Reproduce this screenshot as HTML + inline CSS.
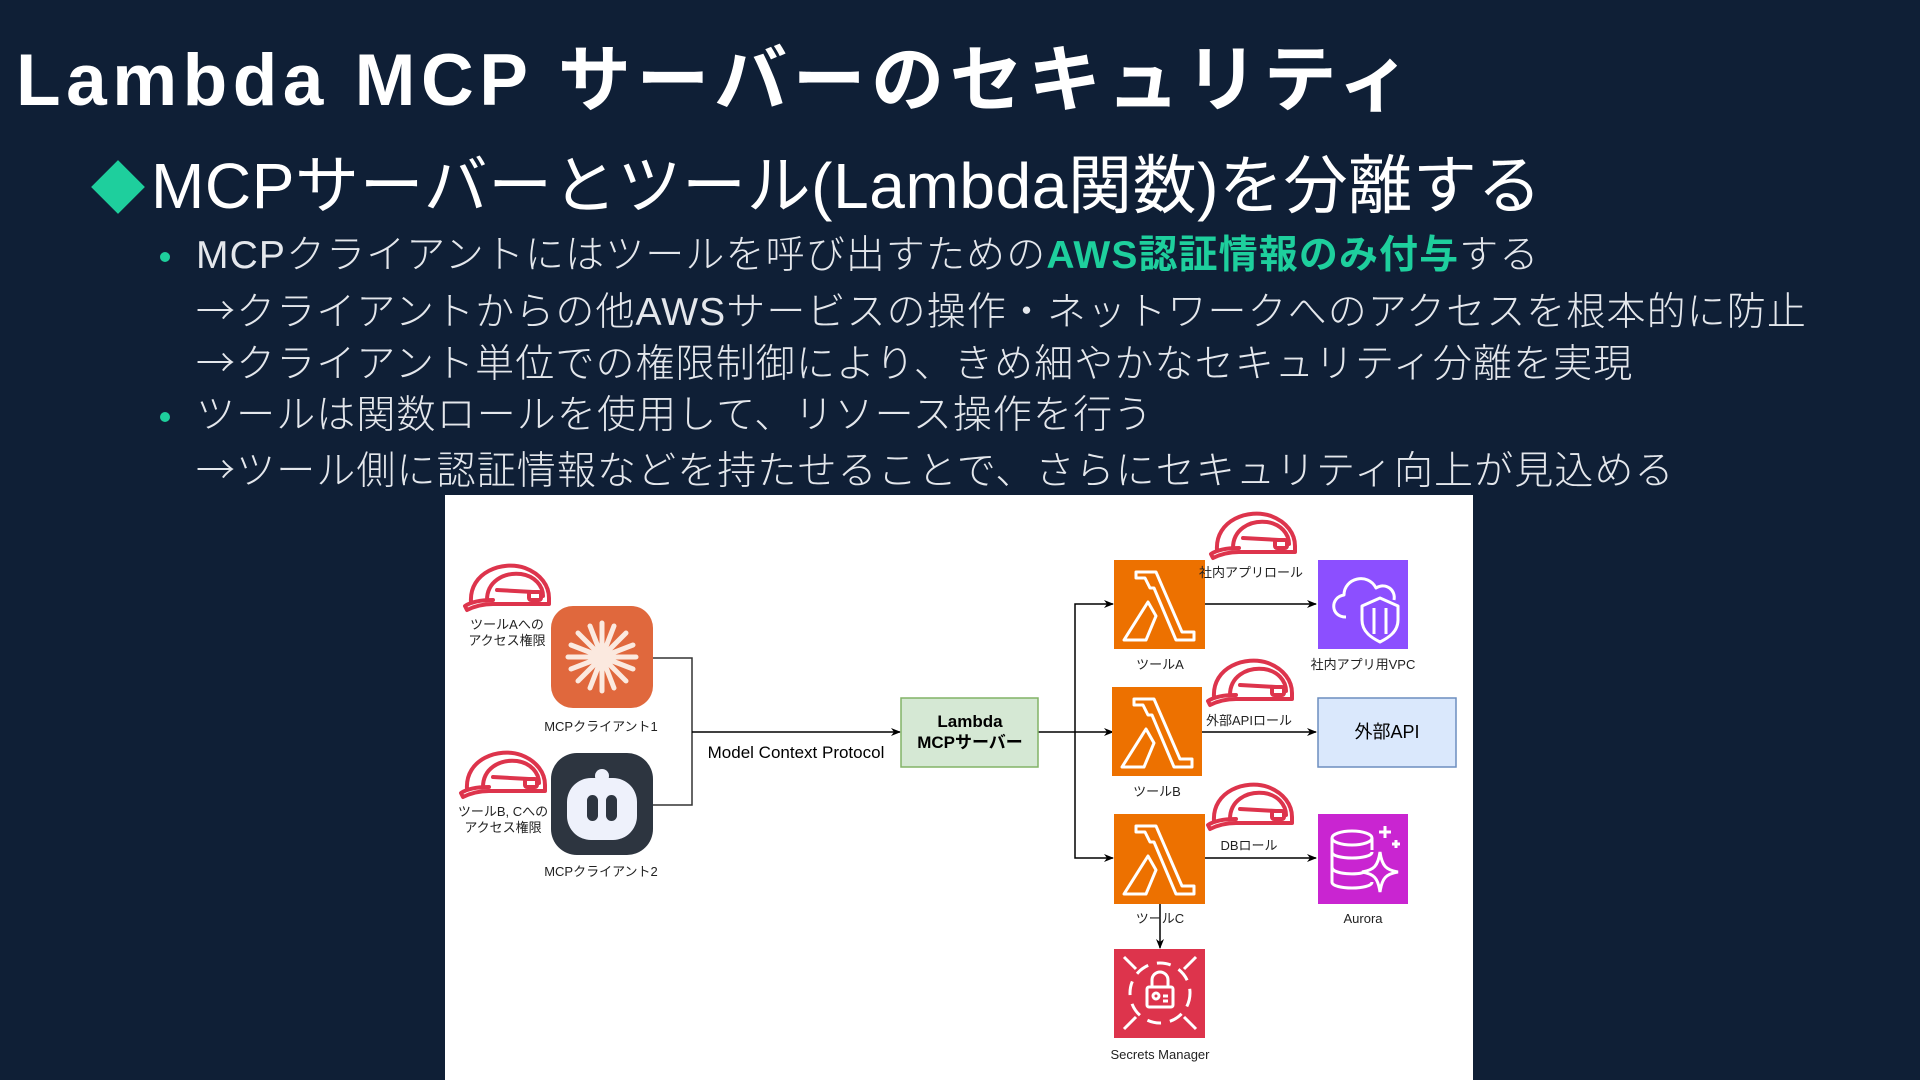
<!DOCTYPE html>
<html><head><meta charset="utf-8"><style>
html,body{margin:0;padding:0}
body{width:1920px;height:1080px;background:#0f1f36;position:relative;overflow:hidden;font-family:"Liberation Sans","Noto Sans CJK JP",sans-serif;color:#e6e9ee}
.t{position:absolute;white-space:nowrap;line-height:1}
.b{font-weight:300;font-size:39px;letter-spacing:1.1px;color:#e4e7ec}
.a{font-family:"Noto Sans CJK JP",sans-serif}
.dot{position:absolute;width:10px;height:10px;border-radius:50%;background:#1ecf9d}
</style></head><body>
<div class="t" style="left:16px;top:44px;font-size:73px;font-weight:bold;color:#fff;letter-spacing:5.5px">Lambda MCP サーバーのセキュリティ</div>
<div style="position:absolute;left:99px;top:168px;width:38px;height:38px;background:#1ecf9d;transform:rotate(45deg)"></div>
<div class="t" style="left:151px;top:154px;font-size:64px;color:#fff;letter-spacing:0.6px">MCPサーバーとツール(Lambda関数)を分離する</div>
<div class="dot" style="left:160px;top:252px"></div>
<div class="t b" style="left:196px;top:236px">MCPクライアントにはツールを呼び出すための<span style="color:#1ecf9d;font-weight:bold">AWS認証情報のみ付与</span>する</div>
<div class="t b" style="left:196px;top:290px"><span class="a">→</span>クライアントからの他AWSサービスの操作・ネットワークへのアクセスを根本的に防止</div>
<div class="t b" style="left:196px;top:342px"><span class="a">→</span>クライアント単位での権限制御により、きめ細やかなセキュリティ分離を実現</div>
<div class="dot" style="left:160px;top:412px"></div>
<div class="t b" style="left:196px;top:396px">ツールは関数ロールを使用して、リソース操作を行う</div>
<div class="t b" style="left:196px;top:449px"><span class="a">→</span>ツール側に認証情報などを持たせることで、さらにセキュリティ向上が見込める</div>

<svg style="position:absolute;left:0;top:0" width="1920" height="1080" viewBox="0 0 1920 1080" font-family="Liberation Sans, Noto Sans CJK JP, sans-serif">
<defs>
<marker id="ar" markerWidth="10" markerHeight="10" refX="9" refY="5" orient="auto" markerUnits="userSpaceOnUse"><path d="M0,1 L10,5 L0,9 L3,5z" fill="#000"/></marker>
<g id="helm" fill="none" stroke="#dd344c" stroke-width="4" stroke-linecap="round" stroke-linejoin="round">
<path d="M8,42 C6,12 40,0 62,8 C78,14 86,26 86,38 L86,44 L30,44 C20,44 12,46 4,50 L2,46 C8,42 18,40 30,40"/>
<path d="M24,40 C24,22 40,12 58,14 C72,16 80,26 80,36"/>
<path d="M34,30 L70,32"/>
<rect x="66" y="32" width="12" height="8" rx="2"/>
</g>
<g id="lam" fill="none" stroke="#fff" stroke-width="3" stroke-linejoin="round">
<path d="M24,14 L44,14 L70,74 L82,74 L82,82 L64,82 L42,30 L38,30 L33,20 L24,20z"/>
<path d="M36,44 L44,58 L34,82 L12,82z"/>
</g>
</defs>
<rect x="445" y="495" width="1028" height="590" fill="#fff"/>
<use href="#helm" transform="translate(463,560)"/>
<use href="#helm" transform="translate(459,747)"/>
<use href="#helm" transform="translate(1209,508)"/>
<use href="#helm" transform="translate(1206,655)"/>
<use href="#helm" transform="translate(1206,779)"/>
<rect x="551" y="606" width="102" height="102" rx="22" fill="#e0683d"/>
<g stroke="#fbe9df" stroke-width="5" stroke-linecap="round" transform="translate(602,657)">
<path d="M0,-34V34M-34,0H34M-24,-24L24,24M-24,24L24,-24M-12,-31L12,31M12,-31L-12,31M-31,-12L31,12M-31,12L31,-12"/>
</g>
<rect x="551" y="753" width="102" height="102" rx="26" fill="#2d3540"/>
<rect x="567" y="778" width="70" height="62" rx="24" fill="#eef1fb"/>
<circle cx="602" cy="776" r="7" fill="#eef1fb"/>
<rect x="587" y="795" width="11" height="26" rx="5.5" fill="#2d3540"/>
<rect x="606" y="795" width="11" height="26" rx="5.5" fill="#2d3540"/>
<g font-size="13" fill="#222" text-anchor="middle">
<text x="507" y="629">ツールAへの</text><text x="507" y="645">アクセス権限</text>
<text x="503" y="816">ツールB, Cへの</text><text x="503" y="832">アクセス権限</text>
<text x="601" y="731">MCPクライアント1</text>
<text x="601" y="876">MCPクライアント2</text>
</g>
<g stroke="#333" stroke-width="1.5" fill="none">
<path d="M653,658 H692 V805 H653"/>
</g>
<g stroke="#000" stroke-width="1.5" fill="none" marker-end="url(#ar)">
<path d="M692,732 H900"/>
<path d="M1038,732 H1113"/>
<path d="M1075,732 V604 H1113"/>
<path d="M1075,732 V858 H1113"/>
<path d="M1205,604 H1316"/>
<path d="M1202,732 H1316"/>
<path d="M1205,858 H1316"/>
<path d="M1160,904 V948"/>
</g>
<text x="796" y="758" font-size="17" fill="#000" text-anchor="middle">Model Context Protocol</text>
<rect x="901" y="698" width="137" height="69" fill="#d5e8d4" stroke="#82b366" stroke-width="1.5"/>
<text x="970" y="727" font-size="17" font-weight="bold" text-anchor="middle" fill="#000">Lambda</text>
<text x="970" y="748" font-size="17" font-weight="bold" text-anchor="middle" fill="#000">MCPサーバー</text>
<rect x="1114" y="560" width="91" height="89" fill="#ed7100"/><use href="#lam" transform="translate(1112,558)"/>
<rect x="1112" y="687" width="90" height="89" fill="#ed7100"/><use href="#lam" transform="translate(1110,685)"/>
<rect x="1114" y="814" width="91" height="90" fill="#ed7100"/><use href="#lam" transform="translate(1112,812)"/>
<rect x="1114" y="949" width="91" height="89" fill="#dd344c"/>
<g transform="translate(1160,993)" fill="none" stroke="#fff" stroke-width="3">
<circle r="30" stroke-dasharray="14 9"/>
<rect x="-13" y="-6" width="26" height="20" rx="2"/>
<path d="M-8,-6 V-13 A8,8 0 0 1 8,-13 V-6"/>
<circle cx="-4" cy="3" r="3"/><path d="M3,3 H8M3,8 H8"/>
<path d="M-36,-36 L-24,-24M36,-36 L24,-24M-36,36 L-24,24M36,36 L24,24"/>
</g>
<rect x="1318" y="560" width="90" height="89" fill="#8c4fff"/>
<g fill="none" stroke="#fff" stroke-width="3" stroke-linejoin="round">
<path d="M1346,617 C1330,617 1330,597 1344,595 C1344,578 1368,572 1376,588 C1386,582 1396,590 1394,600"/>
<path d="M1362,606 L1380,598 L1398,606 V620 C1398,632 1388,638 1380,642 C1372,638 1362,632 1362,620z"/>
<path d="M1374,608 V634 M1386,608 V634"/>
</g>
<rect x="1318" y="698" width="138" height="69" fill="#dae8fc" stroke="#6c8ebf" stroke-width="1.5"/>
<text x="1387" y="738" font-size="18" text-anchor="middle" fill="#000">外部API</text>
<rect x="1318" y="814" width="90" height="90" fill="#c925d1"/>
<g fill="none" stroke="#fff" stroke-width="3">
<ellipse cx="1352" cy="838" rx="20" ry="7"/>
<path d="M1332,838 V882 C1332,890 1372,890 1372,882 M1332,852 C1332,860 1372,860 1372,852 M1332,867 C1332,875 1360,875 1364,872 M1372,838 V850"/>
<path d="M1380,852 C1382,866 1386,870 1398,872 C1386,874 1382,878 1380,892 C1378,878 1374,874 1362,872 C1374,870 1378,866 1380,852z"/>
<path d="M1385,826 V838M1379,832 H1391M1396,840 V848M1392,844 H1400"/>
</g>
<g font-size="13" fill="#222" text-anchor="middle">
<text x="1160" y="669">ツールA</text>
<text x="1157" y="796">ツールB</text>
<text x="1160" y="923">ツールC</text>
<text x="1160" y="1059">Secrets Manager</text>
<text x="1251" y="577">社内アプリロール</text>
<text x="1249" y="725">外部APIロール</text>
<text x="1249" y="850">DBロール</text>
<text x="1363" y="669">社内アプリ用VPC</text>
<text x="1363" y="923">Aurora</text>
</g>
</svg>
</body></html>
